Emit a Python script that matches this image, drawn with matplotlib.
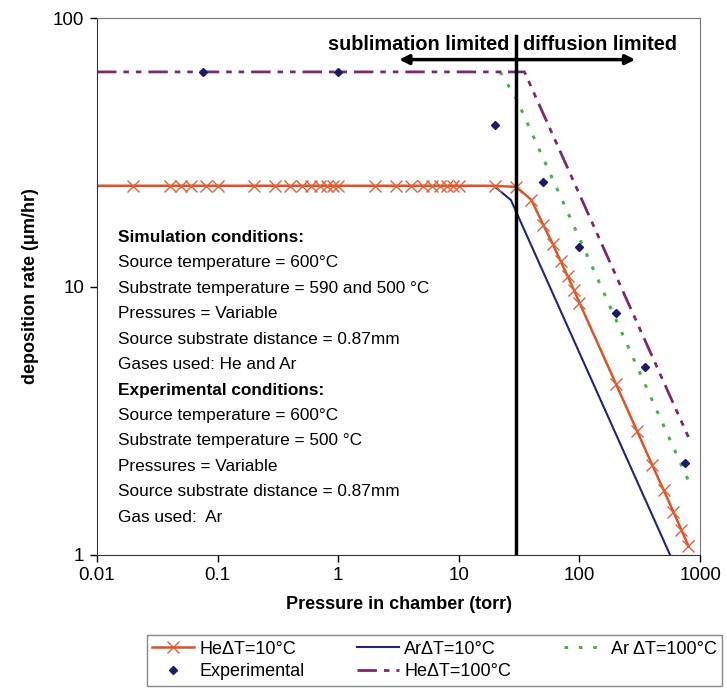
import matplotlib
matplotlib.use('Agg')
import matplotlib.pyplot as plt
from matplotlib.ticker import FixedLocator, FixedFormatter, NullLocator

plt.rcParams['font.family'] = ['Liberation Sans', 'DejaVu Sans']

# He, dT = 10 C (simulation)
he10_p = [0.01, 0.02, 0.04, 0.05, 0.06, 0.08, 0.1,
          0.2, 0.3, 0.4, 0.5, 0.6, 0.7, 0.8, 0.9, 1,
          2, 3, 4, 5, 6, 7, 8, 9, 10,
          20, 30, 40, 50, 60, 70, 80, 90, 100,
          200, 300, 400, 500, 600, 700, 800]
he10_rate = [23.7, 23.7, 23.7, 23.7, 23.7, 23.7, 23.7,
             23.7, 23.7, 23.7, 23.7, 23.7, 23.7, 23.7, 23.7, 23.7,
             23.7, 23.7, 23.7, 23.7, 23.7, 23.7, 23.7, 23.7, 23.7,
             23.7, 23.5, 21.0, 17.0, 14.4, 12.4, 10.9, 9.7, 8.7,
             4.35, 2.9, 2.17, 1.74, 1.45, 1.24, 1.08]

# Ar, dT = 10 C (simulation)
ar10_p = [0.01, 19.5, 27, 600]
ar10_rate = [23.7, 23.7, 21.0, 0.94]

# Ar, dT = 100 C (simulation)
ar100_p = [22, 30, 100, 800]
ar100_rate = [63, 50, 15.1, 1.89]

# He, dT = 100 C (simulation)
he100_p = [0.01, 35, 800]
he100_rate = [63, 63, 2.75]

# experimental points
exp_p = [0.075, 1, 20, 50, 100, 200, 350, 750]
exp_rate = [63, 63, 40, 24.5, 14, 8.0, 5.0, 2.2]

boundary_p = 30

conditions = [
    ("Simulation conditions:", True),
    ("Source temperature = 600\u00b0C", False),
    ("Substrate temperature = 590 and 500 \u00b0C", False),
    ("Pressures = Variable", False),
    ("Source substrate distance = 0.87mm", False),
    ("Gases used: He and Ar", False),
    ("Experimental conditions:", True),
    ("Source temperature = 600\u00b0C", False),
    ("Substrate temperature = 500 \u00b0C", False),
    ("Pressures = Variable", False),
    ("Source substrate distance = 0.87mm", False),
    ("Gas used:  Ar", False),
]

fig = plt.figure(figsize=(7.27, 6.96), dpi=100)
ax = fig.add_axes([0.1334, 0.2026, 0.8296, 0.7715])
ax.set_xscale('log')
ax.set_yscale('log')
ax.set_xlim(0.01, 1000)
ax.set_ylim(1, 100)

navy = '#23237a'
orange = '#d8542a'

l_ar100, = ax.plot(ar100_p, ar100_rate, color='#4caf50', lw=2.2,
                   linestyle=(0, (1.2, 3.5)), label='Ar \u0394T=100\u00b0C')
l_he100, = ax.plot(he100_p, he100_rate, color='#7a2a6e', lw=2.0,
                   linestyle=(0, (7, 2.5, 2, 2.5, 2, 2.5)), label='He\u0394T=100\u00b0C')
l_ar10, = ax.plot(ar10_p, ar10_rate, color=navy, lw=1.5, label='Ar\u0394T=10\u00b0C')
l_he10, = ax.plot(he10_p, he10_rate, color=orange, lw=1.8, marker='x',
                  markersize=9, mew=1.0, mec='#e0603a',
                  markevery=list(range(1, len(he10_p))), label='He\u0394T=10\u00b0C')
l_exp, = ax.plot(exp_p, exp_rate, linestyle='none', marker='D', markersize=4.5,
                 color='#1a1a66', label='Experimental')

# regime boundary and arrows
ax.plot([boundary_p, boundary_p], [1, 86], color='black', lw=2.5)
arrow = dict(arrowstyle='-|>', color='black', lw=2.5, mutation_scale=14,
             shrinkA=0, shrinkB=0)
ax.annotate('', xy=(3.2, 70), xytext=(boundary_p, 70), arrowprops=arrow)
ax.annotate('', xy=(290, 70), xytext=(boundary_p, 70), arrowprops=arrow)
ax.annotate('sublimation limited', xy=(boundary_p, 80), xytext=(-5, 0),
            textcoords='offset points', ha='right', va='center',
            fontsize=14.3, fontweight='bold')
ax.annotate('diffusion limited', xy=(boundary_p, 80), xytext=(5, 0),
            textcoords='offset points', ha='left', va='center',
            fontsize=14.3, fontweight='bold')

# condition notes
y0 = 237
for i, (line, bold) in enumerate(conditions):
    ypix = y0 + i * 25.5
    ax.text(0.035, (555 - ypix) / 537, line, transform=ax.transAxes,
            fontsize=12.4, fontweight='bold' if bold else 'normal',
            ha='left', va='center')

ax.xaxis.set_major_locator(FixedLocator([0.01, 0.1, 1, 10, 100, 1000]))
ax.xaxis.set_major_formatter(FixedFormatter(['0.01', '0.1', '1', '10', '100', '1000']))
ax.yaxis.set_major_locator(FixedLocator([1, 10, 100]))
ax.yaxis.set_major_formatter(FixedFormatter(['1', '10', '100']))
ax.xaxis.set_minor_locator(NullLocator())
ax.yaxis.set_minor_locator(NullLocator())
ax.tick_params(axis='both', direction='out', length=5, width=1, labelsize=13.5,
               pad=4)

for side in ['top', 'right']:
    ax.spines[side].set_color('#777777')
for side in ['left', 'bottom']:
    ax.spines[side].set_color('#333333')

ax.set_xlabel('Pressure in chamber (torr)', fontsize=13, fontweight='bold', labelpad=8)
ax.set_ylabel('deposition rate (\u03bcm/hr)', fontsize=13, fontweight='bold', labelpad=10)

handles = [l_he10, l_exp, l_ar10, l_he100, l_ar100]
leg = fig.legend(handles, [h.get_label() for h in handles], ncol=3,
                 loc='center', bbox_to_anchor=(0.202, 0.012, 0.791, 0.078),
                 mode='expand', fontsize=13, handlelength=2.3, handletextpad=0.3,
                 columnspacing=1.5, frameon=True, fancybox=False,
                 edgecolor='#888888', framealpha=1, borderpad=0.3,
                 labelspacing=0.3, borderaxespad=0)
leg.get_frame().set_linewidth(1.0)

fig.savefig('out.png', dpi=100)
